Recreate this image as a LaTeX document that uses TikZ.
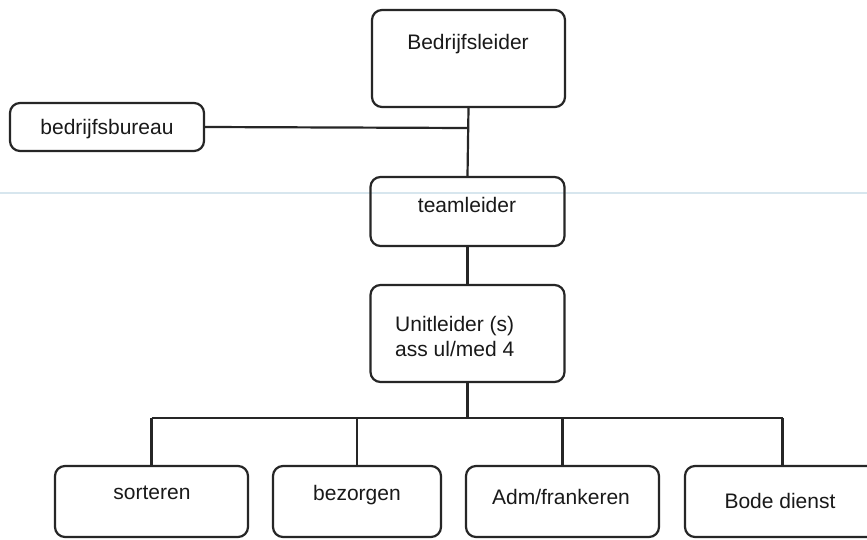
\documentclass[tikz,border=0pt]{standalone}
\usepackage{fontspec}
\setmainfont{Liberation Sans}
\begin{document}
\begin{tikzpicture}[x=1pt,y=-1pt,
  box/.style={draw=black!85, line width=2.2pt, rounded corners=10pt, inner sep=0pt},
  lbl/.style={font=\fontsize{21}{25}\selectfont, text=black!90, inner sep=0pt},
  conn/.style={draw=black!85, line width=2.2pt}]
\clip (0,0) rectangle (867,540);
\fill[white] (0,0) rectangle (867,540);
% faint scan line
\draw[color={rgb,255:red,215;green,230;blue,238}, line width=1.3pt] (0,193) -- (867,193);
% boxes
\node[box, minimum width=193pt, minimum height=97pt] (lead) at (468.5,58.5) {};
\node[lbl] (leadt) at (468,44) {Bedrijfsleider};
\node[box, minimum width=194pt, minimum height=48pt] (bur) at (107,127) {};
\node[lbl] (burt) at (107,129) {bedrijfsbureau};
\node[box, minimum width=194pt, minimum height=69pt] (team) at (467.5,211.5) {};
\node[lbl] (teamt) at (467,205) {teamleider};
\node[box, minimum width=194pt, minimum height=97pt] (unit) at (467.5,333.5) {};
\node[lbl, anchor=west, align=left] (unitt) at (395,336) {Unitleider (s)\\ass ul/med 4};
\node[box, minimum width=193pt, minimum height=71pt] (s1) at (151.5,501.5) {};
\node[lbl] (s1t) at (152,493) {sorteren};
\node[box, minimum width=168pt, minimum height=71pt] (s2) at (357,501.5) {};
\node[lbl] (s2t) at (357,495) {bezorgen};
\node[box, minimum width=193pt, minimum height=71pt] (s3) at (562.5,501.5) {};
\node[lbl] (s3t) at (561,497) {Adm/frankeren};
\node[box, minimum width=195pt, minimum height=71pt] (s4) at (782.5,501.5) {};
\node[lbl] (s4t) at (780,501) {Bode dienst};
% connectors
\coordinate (j1) at (468,128);
\coordinate (bus) at (467.5,418);
\draw[conn] (lead.south) -- (team.north);
\draw[conn] (bur.east) -- (j1);
\draw[conn] (team.south) -- (unit.north);
\draw[conn] (unit.south) -- (bus);
\draw[conn] (s1.north |- bus) -- (s4.north |- bus);
\draw[conn] (s1.north) -- (s1.north |- bus);
\draw[conn] (s2.north) -- (s2.north |- bus);
\draw[conn] (s3.north) -- (s3.north |- bus);
\draw[conn] (s4.north) -- (s4.north |- bus);
\end{tikzpicture}
\end{document}
